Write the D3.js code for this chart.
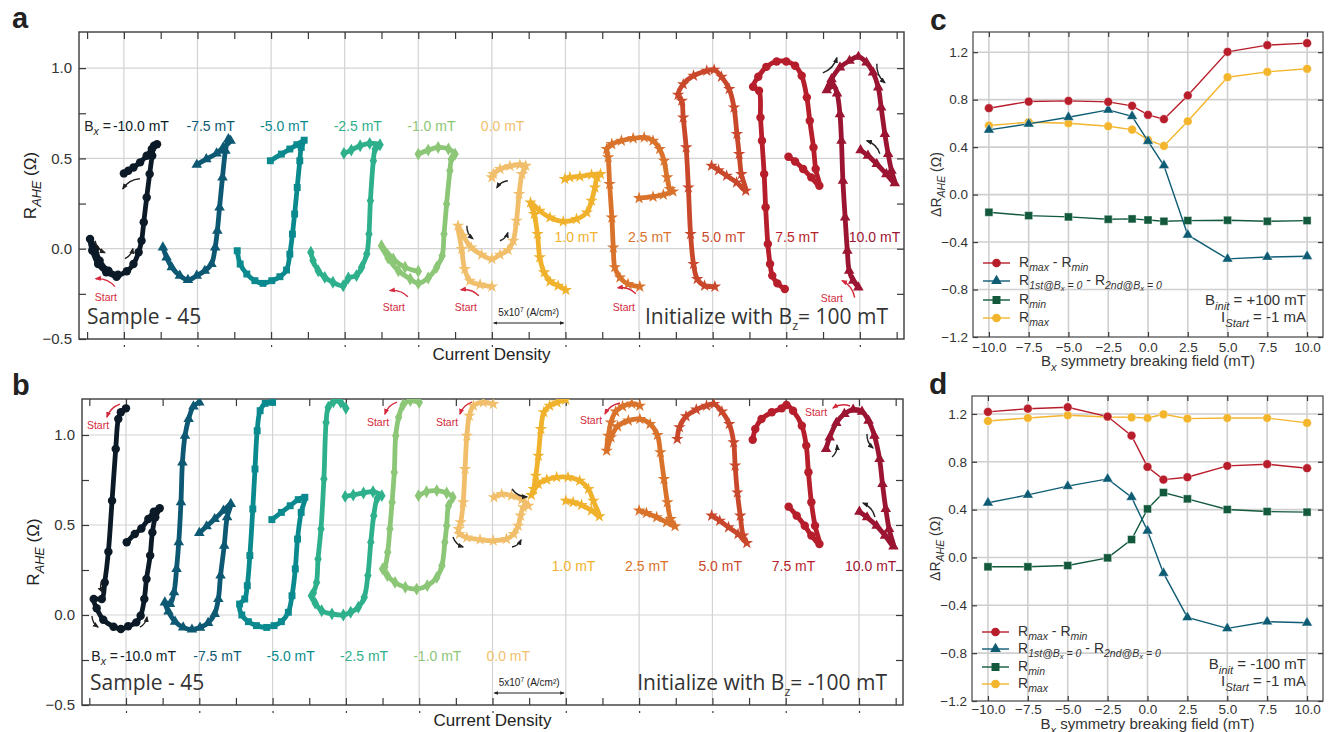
<!DOCTYPE html>
<meta charset="utf-8">
<style>
body { margin: 0; background: #fff; }
svg { font-family: "Liberation Sans", Arial, sans-serif; }
.axis path { display: none; }
.axis line { stroke: #3a3a3a; stroke-width: 1.2; }
.axis text { fill: #333; }
.loop { fill: none; stroke-width: 4.8; stroke-linejoin: round; stroke-linecap: round; }
</style>
<svg width="1330" height="732"></svg>
<script src="https://d3js.org/d3.v7.min.js"></script>
<script>

// ---- loop panels (a, b) ----
var fieldLabels = ["-10.0", "-7.5", "-5.0", "-2.5", "-1.0", "0.0", "1.0", "2.5", "5.0", "7.5", "10.0"];
var loopColors = ["#0b1a26", "#0d5873", "#0a8a8e", "#2db08b", "#8cc677", "#f1bf6b",
                  "#f0b22c", "#d9732c", "#c9482c", "#b71e2b", "#9b1432"];
var loopSymbols = [d3.symbolCircle, d3.symbolTriangle, d3.symbolSquare, d3.symbolDiamond, d3.symbolDiamond,
                   d3.symbolStar, d3.symbolStar, d3.symbolStar, d3.symbolStar, d3.symbolCircle, d3.symbolTriangle];

// panel a : initialised with Bz = +100 mT  ([current density (offset per loop), R_AHE])
var aM100 = [[0.90,-0.155],[0.76,-0.13],[0.65,-0.085],[0.57,-0.01],[0.54,0.054],[0.61,0.0],[0.67,-0.066],[0.79,-0.122],[0.92,-0.144],[1.04,-0.125],[1.13,-0.085],[1.20,-0.02],[1.24,0.044],[1.27,0.146],[1.31,0.284],[1.35,0.413],[1.385,0.515],[1.41,0.57],[1.45,0.579],[1.38,0.552],[1.31,0.515],[1.22,0.478],[1.13,0.45],[1.06,0.432],[1.00,0.417]];
var aM75 = [[1.53,0.007],[1.58,-0.048],[1.65,-0.103],[1.76,-0.149],[1.87,-0.173],[1.99,-0.149],[2.10,-0.122],[2.19,-0.085],[2.24,0.007],[2.27,0.10],[2.30,0.229],[2.34,0.395],[2.38,0.542],[2.42,0.607],[2.45,0.598],[2.35,0.561],[2.26,0.528],[2.12,0.496],[1.99,0.465]];
var aM50 = [[2.54,-0.011],[2.58,-0.085],[2.67,-0.14],[2.78,-0.177],[2.89,-0.192],[3.01,-0.177],[3.12,-0.155],[3.21,-0.118],[3.255,-0.03],[3.29,0.081],[3.32,0.192],[3.355,0.339],[3.39,0.487],[3.41,0.561],[3.45,0.601],[3.35,0.576],[3.255,0.552],[3.14,0.524],[2.99,0.487]];
var aM25 = [[3.54,-0.02],[3.57,-0.066],[3.64,-0.122],[3.73,-0.159],[3.84,-0.186],[3.98,-0.205],[4.05,-0.162],[4.16,-0.149],[4.23,-0.103],[4.30,-0.03],[4.33,0.081],[4.35,0.266],[4.39,0.487],[4.415,0.552],[4.48,0.576],[4.34,0.583],[4.21,0.57],[4.09,0.546],[3.99,0.528]];
var aM10 = [[5.00,-0.125],[4.82,-0.103],[4.66,-0.057],[4.50,0.017],[4.59,-0.052],[4.73,-0.122],[4.89,-0.168],[5.00,-0.192],[5.135,-0.162],[5.25,-0.103],[5.325,-0.039],[5.35,0.081],[5.385,0.247],[5.43,0.432],[5.45,0.496],[5.50,0.524],[5.41,0.552],[5.27,0.561],[5.135,0.546],[5.00,0.524]];
var aZero = [[6.00,-0.21],[5.84,-0.199],[5.70,-0.177],[5.63,-0.113],[5.59,-0.002],[5.54,0.127],[5.61,0.072],[5.72,0.007],[5.86,-0.033],[6.00,-0.057],[6.11,-0.033],[6.22,-0.007],[6.29,0.044],[6.335,0.155],[6.37,0.303],[6.41,0.413],[6.46,0.459],[6.38,0.465],[6.245,0.458],[6.11,0.441],[6.02,0.413],[6.00,0.395]];
var aP10 = [[7.005,-0.229],[6.90,-0.205],[6.79,-0.181],[6.71,-0.131],[6.65,-0.048],[6.62,0.081],[6.575,0.192],[6.525,0.256],[6.65,0.21],[6.79,0.173],[6.97,0.151],[7.15,0.164],[7.29,0.201],[7.354,0.266],[7.40,0.339],[7.43,0.395],[7.476,0.413],[7.354,0.41],[7.195,0.40],[7.06,0.395],[6.99,0.386]];
var aP25 = [[8.01,-0.21],[7.85,-0.196],[7.74,-0.159],[7.67,-0.103],[7.65,0.007],[7.63,0.173],[7.60,0.358],[7.58,0.506],[7.56,0.552],[7.63,0.579],[7.76,0.598],[7.92,0.611],[8.07,0.616],[8.19,0.598],[8.28,0.552],[8.34,0.487],[8.38,0.395],[8.42,0.33],[8.46,0.317],[8.33,0.299],[8.19,0.288],[8.00,0.28]];
var aP50 = [[9.03,-0.21],[8.89,-0.205],[8.79,-0.168],[8.74,-0.085],[8.70,0.081],[8.67,0.339],[8.64,0.561],[8.60,0.727],[8.58,0.819],[8.53,0.852],[8.60,0.911],[8.74,0.958],[8.92,0.985],[9.02,0.991],[9.12,0.952],[9.225,0.884],[9.29,0.782],[9.33,0.635],[9.36,0.524],[9.39,0.413],[9.45,0.321],[9.325,0.367],[9.19,0.404],[9.08,0.435],[8.985,0.459]];
var aP75 = [[9.98,-0.223],[9.88,-0.192],[9.81,-0.149],[9.78,-0.085],[9.75,0.026],[9.72,0.229],[9.70,0.413],[9.67,0.598],[9.65,0.727],[9.63,0.875],[9.55,0.897],[9.62,0.952],[9.73,1.007],[9.87,1.037],[10.00,1.037],[10.12,1.013],[10.21,0.958],[10.28,0.838],[10.32,0.708],[10.37,0.561],[10.40,0.441],[10.45,0.349],[10.34,0.395],[10.23,0.441],[10.12,0.483],[10.03,0.509]];
var aP100 = [[10.98,-0.214],[10.91,-0.177],[10.855,-0.122],[10.83,-0.011],[10.80,0.173],[10.77,0.376],[10.75,0.598],[10.73,0.745],[10.69,0.86],[10.64,0.902],[10.55,0.878],[10.615,0.939],[10.73,1.004],[10.86,1.041],[10.98,1.063],[11.09,1.031],[11.18,0.976],[11.25,0.893],[11.29,0.782],[11.34,0.635],[11.385,0.524],[11.43,0.432],[11.475,0.362],[11.36,0.413],[11.23,0.469],[11.11,0.515],[11.01,0.546]];

// panel b : initialised with Bz = -100 mT
var bM100 = [[1.00,1.148],[0.93,1.126],[0.895,1.089],[0.86,0.922],[0.81,0.635],[0.76,0.352],[0.71,0.181],[0.67,0.089],[0.56,0.089],[0.60,0.037],[0.69,-0.026],[0.83,-0.065],[0.93,-0.078],[1.03,-0.063],[1.14,-0.041],[1.20,-0.004],[1.25,0.089],[1.28,0.20],[1.33,0.33],[1.36,0.459],[1.40,0.543],[1.46,0.593],[1.38,0.574],[1.305,0.533],[1.21,0.481],[1.12,0.45],[1.01,0.404]];
var bM75 = [[2.00,1.181],[1.92,1.159],[1.855,1.089],[1.805,0.996],[1.77,0.848],[1.75,0.626],[1.72,0.404],[1.69,0.256],[1.655,0.126],[1.60,0.061],[1.53,0.07],[1.58,0.019],[1.67,-0.037],[1.78,-0.069],[1.90,-0.081],[2.01,-0.07],[2.12,-0.044],[2.21,0.006],[2.26,0.089],[2.29,0.219],[2.34,0.385],[2.38,0.543],[2.43,0.617],[2.33,0.58],[2.21,0.533],[2.10,0.493],[2.00,0.456]];
var bM50 = [[3.00,1.181],[2.90,1.176],[2.83,1.135],[2.79,1.024],[2.76,0.811],[2.73,0.589],[2.69,0.33],[2.655,0.163],[2.62,0.089],[2.55,0.061],[2.58,0.0],[2.67,-0.037],[2.78,-0.059],[2.92,-0.069],[3.02,-0.059],[3.12,-0.037],[3.215,0.015],[3.265,0.107],[3.31,0.256],[3.34,0.422],[3.39,0.57],[3.44,0.654],[3.35,0.641],[3.24,0.607],[3.12,0.57],[2.99,0.53]];
var bM25 = [[4.00,1.148],[3.93,1.181],[3.83,1.185],[3.76,1.154],[3.73,1.07],[3.70,0.756],[3.66,0.478],[3.62,0.311],[3.60,0.181],[3.556,0.122],[3.53,0.107],[3.58,0.067],[3.67,0.024],[3.81,0.006],[3.965,0.0],[4.065,0.015],[4.17,0.043],[4.25,0.098],[4.30,0.219],[4.34,0.404],[4.38,0.552],[4.43,0.648],[4.49,0.663],[4.37,0.685],[4.24,0.678],[4.10,0.667],[3.99,0.659]];
var bM10 = [[5.00,1.181],[4.88,1.191],[4.78,1.167],[4.72,1.098],[4.68,0.996],[4.66,0.793],[4.63,0.626],[4.60,0.478],[4.57,0.348],[4.53,0.265],[4.50,0.256],[4.565,0.219],[4.67,0.181],[4.81,0.154],[4.965,0.144],[5.11,0.163],[5.24,0.209],[5.31,0.274],[5.35,0.404],[5.375,0.496],[5.40,0.607],[5.46,0.654],[5.375,0.678],[5.24,0.691],[5.10,0.685],[4.99,0.663]];
var bZero = [[6.01,1.172],[5.875,1.181],[5.74,1.163],[5.684,1.107],[5.65,0.996],[5.625,0.811],[5.60,0.626],[5.566,0.515],[5.535,0.478],[5.55,0.45],[5.65,0.431],[5.83,0.419],[6.01,0.413],[6.19,0.422],[6.29,0.45],[6.35,0.496],[6.384,0.552],[6.42,0.598],[6.49,0.607],[6.40,0.641],[6.26,0.663],[6.125,0.672],[6.02,0.654]];
var bP10 = [[7.00,1.196],[6.88,1.181],[6.78,1.163],[6.70,1.126],[6.66,1.033],[6.625,0.885],[6.59,0.774],[6.56,0.70],[6.53,0.667],[6.625,0.728],[6.74,0.752],[6.875,0.765],[7.03,0.765],[7.19,0.746],[7.31,0.70],[7.375,0.635],[7.457,0.548],[7.35,0.58],[7.215,0.611],[7.10,0.626],[7.00,0.635]];
var bP25 = [[8.01,1.163],[7.90,1.174],[7.775,1.159],[7.68,1.13],[7.616,1.07],[7.58,0.996],[7.557,0.913],[7.616,0.987],[7.707,1.048],[7.853,1.08],[8.01,1.089],[8.15,1.061],[8.25,1.0],[8.29,0.904],[8.34,0.756],[8.385,0.626],[8.43,0.533],[8.49,0.493],[8.375,0.515],[8.24,0.543],[8.10,0.567],[8.00,0.58]];
var bP50 = [[8.52,0.978],[8.55,1.043],[8.64,1.104],[8.78,1.141],[8.92,1.163],[9.02,1.172],[9.13,1.13],[9.23,1.061],[9.29,0.959],[9.31,0.83],[9.34,0.681],[9.38,0.552],[9.42,0.441],[9.47,0.40],[9.35,0.45],[9.22,0.487],[9.10,0.524],[8.99,0.552]];
var bP75 = [[9.55,0.974],[9.585,1.033],[9.67,1.089],[9.81,1.126],[9.945,1.148],[10.01,1.167],[10.10,1.135],[10.22,1.052],[10.28,0.941],[10.31,0.793],[10.35,0.626],[10.40,0.496],[10.46,0.394],[10.35,0.441],[10.26,0.496],[10.15,0.552],[10.04,0.602]];
var bP100 = [[10.55,0.922],[10.60,0.987],[10.69,1.067],[10.80,1.117],[10.92,1.141],[11.04,1.13],[11.13,1.08],[11.21,0.996],[11.28,0.867],[11.32,0.728],[11.365,0.589],[11.41,0.478],[11.47,0.381],[11.355,0.441],[11.24,0.496],[11.11,0.543],[11.005,0.574]];

var loopsA = [aM100, aM75, aM50, aM25, aM10, aZero, aP10, aP25, aP50, aP75, aP100];
var loopsB = [bM100, bM75, bM50, bM25, bM10, bZero, bP10, bP25, bP50, bP75, bP100];

// ---- summary panels (c, d) ----
var bxField = [-10, -7.5, -5, -2.5, -1, 0, 1, 2.5, 5, 7.5, 10];
var cRange  = [0.728, 0.784, 0.790, 0.781, 0.748, 0.672, 0.635, 0.835, 1.203, 1.259, 1.276];
var cFirst  = [0.545, 0.596, 0.652, 0.714, 0.660, 0.450, 0.245, -0.340, -0.542, -0.526, -0.520];
var cRmin   = [-0.149, -0.177, -0.188, -0.208, -0.205, -0.214, -0.225, -0.219, -0.216, -0.225, -0.219];
var cRmax   = [0.582, 0.610, 0.601, 0.576, 0.548, 0.461, 0.410, 0.618, 0.989, 1.034, 1.060];
var dRange  = [1.217, 1.244, 1.256, 1.178, 1.019, 0.757, 0.651, 0.671, 0.766, 0.780, 0.746];
var dFirst  = [0.457, 0.523, 0.596, 0.657, 0.504, 0.223, -0.131, -0.501, -0.593, -0.537, -0.546];
var dRmin   = [-0.078, -0.078, -0.067, -0.003, 0.150, 0.406, 0.543, 0.490, 0.401, 0.384, 0.379];
var dRmax   = [1.141, 1.166, 1.189, 1.175, 1.172, 1.166, 1.197, 1.161, 1.166, 1.166, 1.125];
var yTicksCD = [-1.2, -0.8, -0.4, 0.0, 0.4, 0.8, 1.2];
var xTicksCD = [-10, -7.5, -5, -2.5, 0, 2.5, 5, 7.5, 10];

var svg = d3.select("svg");
var defs = svg.append("defs");
[["ahK", "#222"], ["ahR", "#d42a3c"]].forEach(function(m) {
    defs.append("marker").attr("id", m[0]).attr("viewBox", "0 0 10 10")
        .attr("refX", 8).attr("refY", 5).attr("markerWidth", 4.5).attr("markerHeight", 4.5)
        .attr("orient", "auto-start-reverse")
      .append("path").attr("d", "M0,1L10,5L0,9Z").attr("fill", m[1]);
});

// text with (nested) subscripts: parts = [text, level, italic]
function rich(sel, parts, size, subScale) {
    var shift = 0, k = subScale || 0.75;
    parts.forEach(function(p) {
        var lvl = p[1] || 0;
        var target = lvl === 0 ? 0 : (lvl === 1 ? size * 0.3 : size * 0.45);
        var t = sel.append("tspan").text(p[0]).attr("dy", target - shift);
        if (lvl === 1) t.attr("font-size", size * k);
        if (lvl === 2) t.attr("font-size", size * 0.55);
        if (p[2]) t.attr("font-style", "italic");
        shift = target;
    });
    return sel;
}

function arrow(g, x, y, a, red) {
    var x1 = x(a[0]), y1 = y(a[1]), x2 = x(a[2]), y2 = y(a[3]);
    var cx = (x1 + x2) / 2 - (y2 - y1) * 0.25, cy = (y1 + y2) / 2 + (x2 - x1) * 0.25;
    g.append("path")
        .attr("d", "M" + x1 + "," + y1 + "Q" + cx + "," + cy + " " + x2 + "," + y2)
        .attr("fill", "none").attr("stroke", red ? "#d42a3c" : "#222").attr("stroke-width", 1.4)
        .attr("marker-end", red ? "url(#ahR)" : "url(#ahK)");
}

function loopPanel(cfg) {
    var x = d3.scaleLinear().domain([cfg.x0, cfg.x1]).range([cfg.l, cfg.r]);
    var y = d3.scaleLinear().domain([-0.5, 1.2]).range([cfg.b, cfg.t]);
    var g = svg.append("g");

    // grid
    g.append("g").selectAll("line").data(d3.range(1, 12)).join("line")
        .attr("x1", x).attr("x2", x).attr("y1", cfg.t).attr("y2", cfg.b)
        .attr("stroke", "#d3d3d3").attr("stroke-width", 1.2);
    g.append("g").selectAll("line").data([0, 0.5, 1.0]).join("line")
        .attr("x1", cfg.l).attr("x2", cfg.r).attr("y1", y).attr("y2", y)
        .attr("stroke", "#d3d3d3").attr("stroke-width", 1.2);

    // ticks (inward)
    var xt = d3.range(0.5, 11.6, 0.5);
    var yt = [-0.25, 0, 0.25, 0.5, 0.75, 1.0];
    g.append("g").attr("class", "axis").attr("transform", "translate(0," + cfg.b + ")")
        .call(d3.axisBottom(x).tickValues(xt).tickSize(-7).tickFormat(""));
    g.append("g").attr("class", "axis").attr("transform", "translate(0," + cfg.t + ")")
        .call(d3.axisTop(x).tickValues(xt).tickSize(-7).tickFormat(""));
    g.append("g").attr("class", "axis").attr("transform", "translate(" + cfg.r + ",0)")
        .call(d3.axisRight(y).tickValues(yt).tickSize(-7).tickFormat(""));
    g.append("g").attr("class", "axis").attr("transform", "translate(" + cfg.l + ",0)")
        .call(d3.axisLeft(y).tickValues([-0.5, -0.25, 0, 0.25, 0.5, 0.75, 1.0]).tickSize(-7).tickPadding(7)
            .tickFormat(function(d) { return d * 2 % 1 === 0 ? d3.format(".1f")(d) : ""; }))
        .selectAll("text").attr("font-size", 15);
    g.append("g").attr("class", "axis").attr("transform", "translate(0," + (cfg.b + 6) + ")")
        .call(d3.axisBottom(x).tickValues(d3.range(1, 12)).tickSize(2).tickFormat(""))
        .selectAll("line").attr("stroke", "#999").attr("stroke-width", 0.8);

    g.append("rect").attr("x", cfg.l).attr("y", cfg.t).attr("width", cfg.r - cfg.l).attr("height", cfg.b - cfg.t)
        .attr("fill", "none").attr("stroke", "#3a3a3a").attr("stroke-width", 1.4);

    // loops
    defs.append("clipPath").attr("id", cfg.id + "clip").append("rect")
        .attr("x", cfg.l).attr("y", cfg.t).attr("width", cfg.r - cfg.l).attr("height", cfg.b - cfg.t);
    var plot = g.append("g").attr("clip-path", "url(#" + cfg.id + "clip)");
    var line = d3.line().x(function(d) { return x(d[0]); }).y(function(d) { return y(d[1]); })
        .curve(d3.curveCatmullRom.alpha(0.5));
    cfg.loops.forEach(function(pts, i) {
        plot.append("path").attr("class", "loop").attr("d", line(pts)).attr("stroke", loopColors[i]);
        plot.append("g").selectAll("path").data(pts).join("path")
            .attr("transform", function(d) { return "translate(" + x(d[0]) + "," + y(d[1]) + ")"; })
            .attr("d", d3.symbol().type(loopSymbols[i]).size(i === 0 || i === 9 ? 56 : 48))
            .attr("fill", loopColors[i]);
    });

    // field labels
    fieldLabels.forEach(function(f, i) {
        var top = i < 6;
        var lx = x(i + 1) + (top ? cfg.labOffTop : cfg.labOffBot);
        var ly = top ? cfg.labTop : cfg.labBot;
        g.append("text").attr("x", lx).attr("y", ly).attr("font-size", 14)
            .attr("fill", loopColors[i]).text(f + " mT");
        if (i === 0) {
            rich(g.append("text").attr("x", lx - 2).attr("y", ly).attr("font-size", 14)
                .attr("text-anchor", "end").attr("fill", "#222"), [["B"], ["x", 1, true], [" =", 0]], 14);
        }
    });

    // start markers and sweep arrows
    cfg.starts.forEach(function(s) {
        arrow(g, x, y, s.a, true);
        g.append("text").attr("x", x(s.t[0])).attr("y", y(s.t[1]) + 4).attr("text-anchor", "middle")
            .attr("font-size", 10.5).attr("fill", "#d42a3c").text("Start");
    });
    cfg.arrows.forEach(function(a) { arrow(g, x, y, a, false); });

    // scale bar
    g.append("line").attr("x1", x(6) + 2).attr("x2", x(7) - 2).attr("y1", cfg.barY).attr("y2", cfg.barY)
        .attr("stroke", "#222").attr("stroke-width", 1)
        .attr("marker-start", "url(#ahK)").attr("marker-end", "url(#ahK)");
    var sb = g.append("text").attr("x", x(6.5)).attr("y", cfg.barY - 7).attr("text-anchor", "middle")
        .attr("font-size", 10).attr("fill", "#222");
    sb.append("tspan").text("5x10");
    sb.append("tspan").text("7").attr("font-size", 6.5).attr("dy", -4);
    sb.append("tspan").text(" (A/cm²)").attr("dy", 4);

    g.append("text").attr("x", cfg.l + 8).attr("y", cfg.b - 15).attr("font-family", "Open Sans")
        .attr("font-size", 21).attr("fill", "#333").text("Sample - 45");
    rich(g.append("text").attr("x", cfg.r - 16).attr("y", cfg.b - 15).attr("text-anchor", "end")
        .attr("font-family", "Open Sans").attr("font-size", 21).attr("fill", "#333"),
        [["Initialize with B"], ["z", 1], ["= " + cfg.bz + " mT", 0]], 21, 0.6);

    g.append("text").attr("x", (cfg.l + cfg.r) / 2).attr("y", cfg.b + 21).attr("text-anchor", "middle")
        .attr("font-size", 17).attr("fill", "#222").text("Current Density");
    rich(g.append("text").attr("transform", "translate(" + (cfg.l - 43) + "," + ((cfg.t + cfg.b) / 2) + ") rotate(-90)")
        .attr("text-anchor", "middle").attr("font-size", 17).attr("fill", "#222"),
        [["R"], ["AHE", 1, true], [" (Ω)", 0]], 17);
    g.append("text").attr("x", 12).attr("y", cfg.t - 4).attr("font-size", 29).attr("font-weight", "bold")
        .attr("fill", "#222").text(cfg.id);
}

loopPanel({
    id: "a", l: 79, r: 904, t: 32, b: 339, x0: 0.39, x1: 11.6, loops: loopsA, bz: "100",
    labTop: 131, labBot: 242, labOffTop: -11, labOffBot: -11, barY: 323,
    starts: [
        {a: [0.878, -0.21, 0.62, -0.166], t: [0.755, -0.266]},
        {a: [4.859, -0.266, 4.614, -0.232], t: [4.668, -0.321]},
        {a: [5.823, -0.26, 5.579, -0.227], t: [5.647, -0.321]},
        {a: [7.957, -0.249, 7.712, -0.216], t: [7.793, -0.321]},
        {a: [10.93, -0.271, 10.76, -0.177], t: [10.62, -0.271]}
    ],
    arrows: [[0.606, 0.044, 0.742, -0.022], [1.014, -0.055, 1.122, 0.0], [1.217, 0.387, 0.986, 0.332],
             [6.217, 0.376, 6.068, 0.338], [5.66, 0.127, 5.742, 0.055], [6.109, 0.044, 6.217, 0.089],
             [10.497, 0.974, 10.688, 1.057], [11.231, 1.024, 11.34, 0.919], [11.272, 0.526, 11.095, 0.598]]
});

loopPanel({
    id: "b", l: 82, r: 903, t: 399, b: 705, x0: 0.4, x1: 11.6, loops: loopsB, bz: "-100",
    labTop: 661, labBot: 571, labOffTop: -6, labOffBot: -14, barY: 693,
    starts: [
        {a: [0.918, 1.172, 0.741, 1.1], t: [0.618, 1.056]},
        {a: [4.697, 1.183, 4.533, 1.117], t: [4.438, 1.072]},
        {a: [5.72, 1.183, 5.557, 1.117], t: [5.379, 1.072]},
        {a: [7.739, 1.178, 7.535, 1.117], t: [7.344, 1.083]},
        {a: [10.877, 1.161, 10.645, 1.15], t: [10.413, 1.128]}
    ],
    arrows: [[0.536, -0.006, 0.618, -0.067], [1.191, -0.067, 1.286, -0.011], [0.673, 0.189, 0.673, 0.128],
             [5.461, 0.433, 5.598, 0.378], [6.266, 0.378, 6.389, 0.417], [6.266, 0.7, 6.471, 0.656],
             [10.632, 0.878, 10.7, 0.944], [11.109, 1.006, 11.191, 0.928], [11.218, 0.544, 11.055, 0.622]]
});

// ---- summary panels ----
function summaryPanel(cfg) {
    var x = d3.scaleLinear().domain([-11, 11]).range([cfg.l, cfg.r]);
    var y = d3.scaleLinear().domain([-1.2, cfg.yTop]).range([cfg.b, cfg.t]);
    var g = svg.append("g");

    g.append("g").selectAll("line").data(xTicksCD).join("line")
        .attr("x1", x).attr("x2", x).attr("y1", cfg.t).attr("y2", cfg.b)
        .attr("stroke", "#cfcfcf").attr("stroke-width", 1.6);
    g.append("g").selectAll("line").data(yTicksCD.slice(1)).join("line")
        .attr("x1", cfg.l).attr("x2", cfg.r).attr("y1", y).attr("y2", y)
        .attr("stroke", "#cfcfcf").attr("stroke-width", 1.6);

    g.append("g").attr("class", "axis").attr("transform", "translate(0," + cfg.b + ")")
        .call(d3.axisBottom(x).tickValues(xTicksCD).tickSize(-5).tickPadding(cfg.xPad).tickFormat(d3.format(".1f")))
        .selectAll("text").attr("font-size", 13.5);
    g.append("g").attr("class", "axis").attr("transform", "translate(0," + cfg.t + ")")
        .call(d3.axisTop(x).tickValues(xTicksCD).tickSize(-5).tickFormat(""));
    g.append("g").attr("class", "axis").attr("transform", "translate(" + cfg.l + ",0)")
        .call(d3.axisLeft(y).tickValues(yTicksCD).tickSize(-5).tickPadding(5).tickFormat(d3.format(".1f")))
        .selectAll("text").attr("font-size", 13.5);
    g.append("g").attr("class", "axis").attr("transform", "translate(" + cfg.r + ",0)")
        .call(d3.axisRight(y).tickValues(yTicksCD).tickSize(-5).tickFormat(""));
    g.append("rect").attr("x", cfg.l).attr("y", cfg.t).attr("width", cfg.r - cfg.l).attr("height", cfg.b - cfg.t)
        .attr("fill", "none").attr("stroke", "#444").attr("stroke-width", 1.2);

    var series = [
        {v: cfg.range, c: "#b81d2b", s: d3.symbolCircle, z: 60,
         lab: [["R"], ["max", 1, true], [" - R", 0], ["min", 1, true]]},
        {v: cfg.first, c: "#0e5c74", s: d3.symbolTriangle, z: 50,
         lab: [["R"], ["1st@B", 1, true], ["x", 2, true], [" = 0", 1, true], [" - R", 0], ["2nd@B", 1, true], ["x", 2, true], [" = 0", 1, true]]},
        {v: cfg.rmin, c: "#135a3d", s: d3.symbolSquare, z: 64,
         lab: [["R"], ["min", 1, true]]},
        {v: cfg.rmax, c: "#f3b52b", s: d3.symbolCircle, z: 60,
         lab: [["R"], ["max", 1, true]]}
    ];
    var line = d3.line().x(function(d, i) { return x(bxField[i]); }).y(function(d) { return y(d); });
    [3, 2, 1, 0].forEach(function(k) {
        var s = series[k];
        g.append("path").attr("d", line(s.v)).attr("fill", "none").attr("stroke", s.c).attr("stroke-width", 1.4);
        g.append("g").selectAll("path").data(s.v).join("path")
            .attr("transform", function(d, i) { return "translate(" + x(bxField[i]) + "," + y(d) + ")"; })
            .attr("d", d3.symbol().type(s.s).size(s.z))
            .attr("fill", s.c).attr("stroke", "#fff").attr("stroke-opacity", 0.5).attr("stroke-width", 0.8);
    });

    // legend
    series.forEach(function(s, i) {
        var ly = cfg.legY[i];
        g.append("line").attr("x1", cfg.l + 10).attr("x2", cfg.l + 37).attr("y1", ly).attr("y2", ly)
            .attr("stroke", s.c).attr("stroke-width", 1.4);
        g.append("path").attr("transform", "translate(" + (cfg.l + 23.5) + "," + ly + ")")
            .attr("d", d3.symbol().type(s.s).size(s.z)).attr("fill", s.c);
        rich(g.append("text").attr("x", cfg.l + 46).attr("y", ly + 4).attr("font-size", 14).attr("fill", "#333"),
            s.lab, 14);
    });
    rich(g.append("text").attr("x", cfg.r - 17).attr("y", cfg.annY).attr("text-anchor", "end")
        .attr("font-size", 15).attr("fill", "#333"), [["B"], ["init", 1, true], [" = " + cfg.binit + " mT", 0]], 15);
    rich(g.append("text").attr("x", cfg.r - 17).attr("y", cfg.annY + 17).attr("text-anchor", "end")
        .attr("font-size", 15).attr("fill", "#333"), [["I"], ["Start", 1, true], [" = -1 mA", 0]], 15);

    rich(g.append("text").attr("x", (cfg.l + cfg.r) / 2).attr("y", cfg.b + cfg.xlabOff).attr("text-anchor", "middle")
        .attr("font-size", 15).attr("fill", "#333"),
        [["B"], ["x", 1, true], [" symmetry breaking field (mT)", 0]], 15);
    rich(g.append("text").attr("transform", "translate(" + (cfg.l - 32) + "," + ((cfg.t + cfg.b) / 2) + ") rotate(-90)")
        .attr("text-anchor", "middle").attr("font-size", 14).attr("fill", "#333"),
        [["ΔR"], ["AHE", 1, true], [" (Ω)", 0]], 14);
    g.append("text").attr("x", cfg.l - 43).attr("y", cfg.t - 2).attr("font-size", 30).attr("font-weight", "bold")
        .attr("fill", "#222").text(cfg.id);
}

summaryPanel({
    id: "c", l: 973, r: 1323, t: 32, b: 337, yTop: 1.37, xlabOff: 29, xPad: 5,
    range: cRange, first: cFirst, rmin: cRmin, rmax: cRmax,
    legY: [263, 281, 300, 318], annY: 305, binit: "+100"
});
summaryPanel({
    id: "d", l: 972, r: 1323, t: 396, b: 701, yTop: 1.35, xlabOff: 28, xPad: 3,
    range: dRange, first: dFirst, rmin: dRmin, rmax: dRmax,
    legY: [632, 649, 667, 684], annY: 669, binit: "-100"
});

</script>
